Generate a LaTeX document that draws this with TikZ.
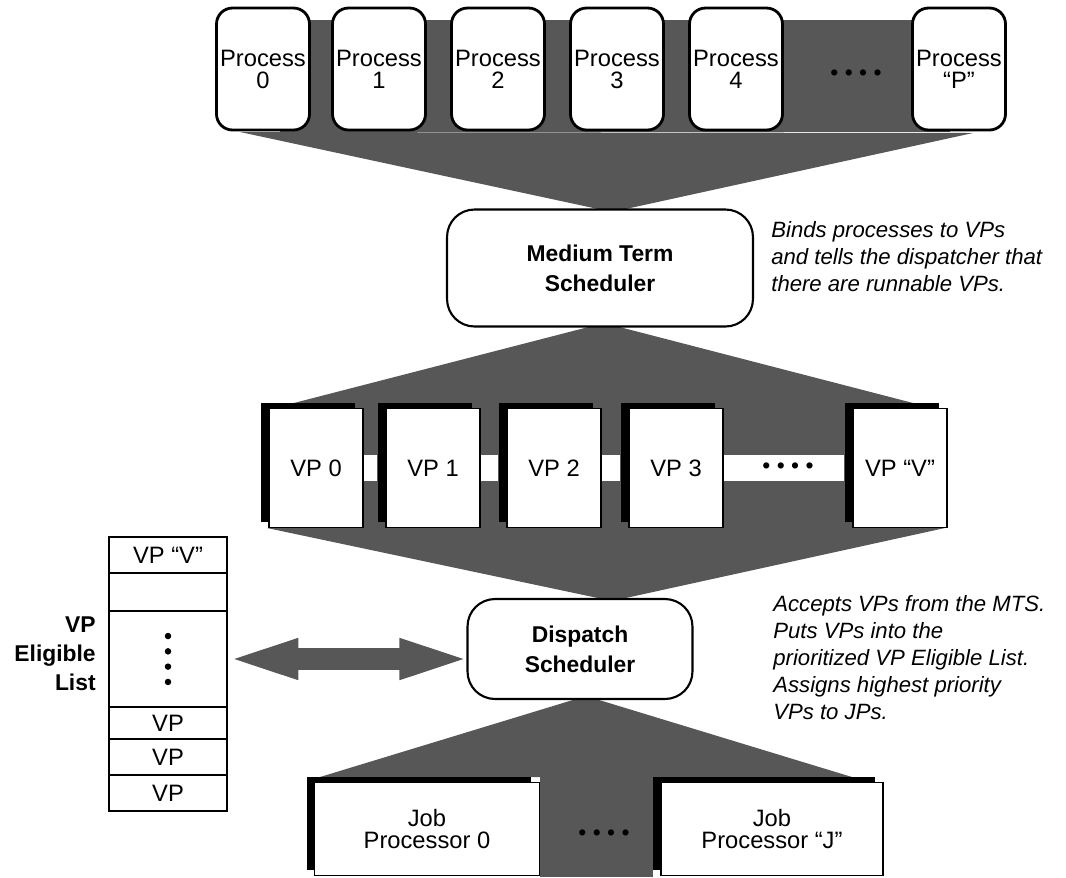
\documentclass[tikz,border=0pt]{standalone}
\usepackage{fontspec}
\setmainfont{Liberation Sans}
\usetikzlibrary{positioning,shadows,arrows.meta}

\begin{document}
\begin{tikzpicture}[x=0.02cm, y=-0.02cm,
    dither/.style={fill=black!66},
    procbox/.style={draw=black, line width=1.6pt, fill=white, rounded corners=0.32cm,
      minimum width=1.86cm, minimum height=2.44cm, align=center, inner sep=0pt,
      font=\fontsize{13.5}{12.5}\selectfont},
    schedbox/.style={draw=black, line width=1.2pt, fill=white, rounded corners=0.55cm,
      align=center, font=\fontsize{13}{17}\selectfont\bfseries},
    vpbox/.style={draw=black, line width=0.8pt, fill=white, minimum width=1.88cm,
      minimum height=2.38cm, font=\fontsize{13.5}{16}\selectfont,
      general shadow={shadow xshift=-0.16cm, shadow yshift=0.12cm, fill=black}},
    jpbox/.style={vpbox, align=center, minimum height=1.86cm,
      font=\fontsize{13.5}{13}\selectfont},
    listcell/.style={draw=black, line width=1.5pt, fill=white, minimum width=2.36cm,
      inner sep=0pt, align=center, font=\fontsize{13.5}{16}\selectfont},
    note/.style={anchor=north west, align=left, inner sep=0pt,
      font=\fontsize{12.6}{15.4}\selectfont\itshape},
    dotrow/.style={inner sep=0pt, font=\fontsize{13}{13}\selectfont},
    link/.style={draw=white, line width=0.52cm},
    fatarrow/.style={draw=black!66, line width=0.44cm,
      {Triangle[length=1.28cm, width=0.84cm, line width=1pt]}-{Triangle[length=1.28cm, width=0.84cm, line width=1pt]},
      shorten <=0.12cm, shorten >=0.06cm}]
\useasboundingbox (0,0) rectangle (1066,877);

% dithered backgrounds
\fill[dither] (280,20) rectangle (950,132);
\fill[dither] (240,132) -- (973,133) -- (612,212) -- cycle;
\fill[dither] (604,323) -- (290,404) -- (917,404) -- cycle;
\fill[dither] (290,403) rectangle (917,528);
\fill[dither] (267,528) -- (945,528) -- (612,601) -- cycle;
\fill[dither] (586,696) -- (320,777) -- (852,777) -- cycle;
\fill[dither] (540,776) rectangle (653,877);

% processes
\node[procbox] (p0) at (263,69) {Process\\0};
\node[procbox] (p1) at (379,69) {Process\\1};
\node[procbox] (p2) at (498,69) {Process\\2};
\node[procbox] (p3) at (617,69) {Process\\3};
\node[procbox] (p4) at (736,69) {Process\\4};
\node[procbox] (pP) at (959,69) {Process\\“P”};
\node[dotrow] (pdots) at (856,75) {• • • •};

% medium term scheduler
\node[schedbox, minimum width=6.12cm, minimum height=2.34cm] (mts) at (600,268) {Medium Term\\Scheduler};
\node[note] (mtsnote) at (771,221) {Binds processes to VPs\\and tells the dispatcher that\\there are runnable VPs.};

% virtual processors
\node[vpbox] (vp0) at (316,468) {VP 0};
\node[vpbox] (vp1) at (433,468) {VP 1};
\node[vpbox] (vp2) at (554,468) {VP 2};
\node[vpbox] (vp3) at (676,468) {VP 3};
\node[vpbox] (vpv) at (900,468) {VP “V”};
\draw[link, shorten <=0.4pt, shorten >=0.16cm] (vp0.east) -- (vp1.west);
\draw[link, shorten <=0.4pt, shorten >=0.16cm] (vp1.east) -- (vp2.west);
\draw[link, shorten <=0.4pt, shorten >=0.16cm] (vp2.east) -- (vp3.west);
\draw[link, shorten <=0.4pt, shorten >=0.16cm] (vp3.east) -- (vpv.west)
  node[dotrow, midway] (vdots) {• • • •};

% dispatch scheduler
\node[schedbox, minimum width=4.5cm, minimum height=2cm] (ds) at (580,649) {Dispatch\\Scheduler};
\node[note] (dsnote) at (773,595) {Accepts VPs from the MTS.\\Puts VPs into the\\prioritized VP Eligible List.\\Assigns highest priority\\VPs to JPs.};

% VP eligible list
\node[listcell, minimum height=0.72cm] (l1) at (168,555) {VP “V”};
\node[listcell, minimum height=0.76cm] (l2) at (168,592) {};
\node[listcell, minimum height=1.92cm] (l3) at (168,659) {};
\foreach \k in {-1.5,-0.5,0.5,1.5}
  \fill (l3.center) ++(0,\k*15.3) circle (0.065cm);
\node[listcell, minimum height=0.64cm] (l4) at (168,723) {VP};
\node[listcell, minimum height=0.72cm] (l5) at (168,757) {VP};
\node[listcell, minimum height=0.72cm] (l6) at (168,793) {VP};
\node[anchor=east, align=right, inner sep=0pt, font=\fontsize{13}{16.4}\selectfont\bfseries] (elig) at (96,654) {VP\\Eligible\\List};
\draw[fatarrow] (l3.east) -- (l3.east -| ds.west);

% job processors
\node[jpbox, minimum width=4.5cm] (jp0) at (427,829) {Job\\Processor 0};
\node[jpbox, minimum width=4.44cm] (jpj) at (772,829) {Job\\Processor “J”};
\node[dotrow] (jdots) at (604,835) {• • • •};
\end{tikzpicture}
\end{document}
